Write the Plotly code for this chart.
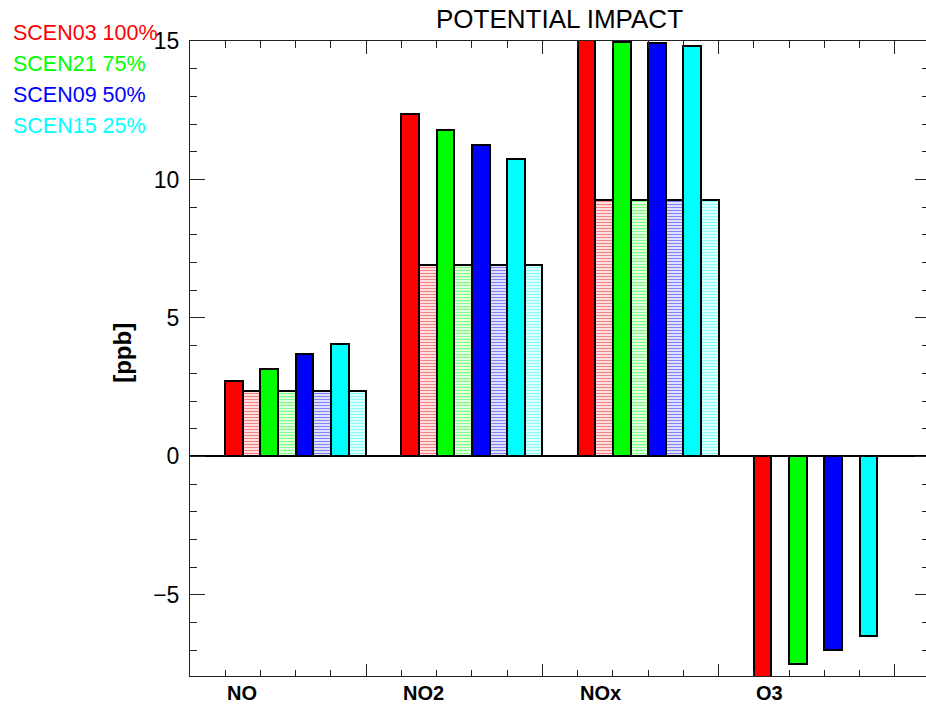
import plotly.graph_objects as go

# Species on the x axis and scenario names / colours
categories = ["NO", "NO2", "NOx", "O3"]
scenarios = ["SCEN03 100%", "SCEN21 75%", "SCEN09 50%", "SCEN15 25%"]
colors = ["#FF0000", "#00FF00", "#0000FF", "#00FFFF"]

# Potential impact per scenario [ppb], one value per species
scen03 = [2.74, 12.36, 15.10, -8.00]
scen21 = [3.15, 11.80, 14.95, -7.50]
scen09 = [3.68, 11.26, 14.94, -6.99]
scen15 = [4.06, 10.75, 14.81, -6.49]
impact = [scen03, scen21, scen09, scen15]

# Reference (hatched) bars, shared by every scenario; no reference for O3
reference = [2.36, 6.91, 9.27, None]

FONT = "Liberation Sans, Arial, Helvetica, sans-serif"
X_MAX = 41.77          # bar units visible along x
Y_RANGE = [-7.93, 15.0]

fig = go.Figure()

for s, (name, col, vals) in enumerate(zip(scenarios, colors, impact)):
    xs = [10 * g + 2 + 2 * s + 0.5 for g in range(len(categories))]
    fig.add_trace(go.Bar(
        x=xs, y=vals, width=1.0, name=name,
        marker=dict(color=col, line=dict(color="black", width=2)),
        showlegend=False, hoverinfo="skip",
    ))
    xr = [x + 1 for x in xs]
    fig.add_trace(go.Bar(
        x=xr, y=reference, width=1.0, name=name + " ref",
        marker=dict(color=col, line=dict(color="black", width=2),
                    pattern=dict(shape="-", fgcolor=col, bgcolor="white",
                                 size=3, solidity=0.5)),
        showlegend=False, hoverinfo="skip",
    ))

# empty trace that carries the top / right tick axes
fig.add_trace(go.Scatter(x=[None], y=[None], xaxis="x2", yaxis="y2",
                         showlegend=False, hoverinfo="skip"))

axis_col = "#222222"
xcommon = dict(range=[0, X_MAX], tick0=0, dtick=10, ticks="inside",
               showticklabels=False, showgrid=False, zeroline=False,
               showline=True, linecolor=axis_col, linewidth=1,
               tickcolor=axis_col, tickwidth=1)

fig.update_layout(
    width=926, height=712, autosize=False,
    margin=dict(l=190, r=0, t=41, b=36),
    paper_bgcolor="white", plot_bgcolor="white",
    barmode="overlay", bargap=0,
    font=dict(family=FONT, color="black"),
    xaxis=dict(**xcommon, ticklen=12,
               minor=dict(dtick=2, ticks="inside", ticklen=6,
                          tickcolor=axis_col, showgrid=False)),
    xaxis2=dict(**xcommon, ticklen=13, overlaying="x", side="top",
                anchor="y2", matches="x",
                minor=dict(dtick=2, ticks="inside", ticklen=7,
                           tickcolor=axis_col, showgrid=False)),
    yaxis=dict(range=Y_RANGE, tick0=0, dtick=5, ticks="inside", ticklen=15,
               tickcolor=axis_col, tickwidth=1,
               minor=dict(dtick=1, ticks="inside", ticklen=7,
                          tickcolor=axis_col, showgrid=False),
               showgrid=False, showline=True, linecolor=axis_col, linewidth=1,
               zeroline=True, zerolinecolor="black", zerolinewidth=2,
               tickfont=dict(size=23, family=FONT, color="black"),
               ticklabelstandoff=5),
    yaxis2=dict(range=Y_RANGE, overlaying="y", side="right", anchor="x2",
                matches="y", tick0=0, dtick=5, ticks="inside", ticklen=11,
                tickcolor=axis_col, tickwidth=1,
                minor=dict(dtick=1, ticks="inside", ticklen=4,
                           tickcolor=axis_col, showgrid=False),
                showticklabels=False, showgrid=False, showline=False,
                zeroline=False),
)

annotations = []

# chart title
annotations.append(dict(text="POTENTIAL IMPACT", xref="paper", yref="paper",
                        x=0.5027, y=1, xanchor="center", yanchor="middle",
                        yshift=22.5, showarrow=False,
                        font=dict(size=26, family=FONT, color="black")))

# y axis title
annotations.append(dict(text="<b>[ppb]</b>", xref="paper", yref="paper",
                        x=0, y=0.509, xshift=-67, xanchor="center",
                        yanchor="middle", textangle=-90, showarrow=False,
                        font=dict(size=24, family=FONT, color="black")))

# species labels under each group
for g, cat in enumerate(categories):
    annotations.append(dict(text="<b>" + cat + "</b>", xref="x", yref="paper",
                            x=10 * g + 2, y=0, xanchor="left",
                            yanchor="middle", yshift=-17, showarrow=False,
                            font=dict(size=20, family=FONT, color="black")))

# scenario key in the top-left corner
for s, (name, col) in enumerate(zip(scenarios, colors)):
    annotations.append(dict(text=name, xref="paper", yref="paper",
                            x=0, y=1, xanchor="left", yanchor="middle",
                            xshift=-179, yshift=41 - (32.5 + 31.3 * s),
                            showarrow=False,
                            font=dict(size=21.5, family=FONT, color=col)))

fig.update_layout(annotations=annotations)

fig.write_html("out.html", config={"displayModeBar": False})
